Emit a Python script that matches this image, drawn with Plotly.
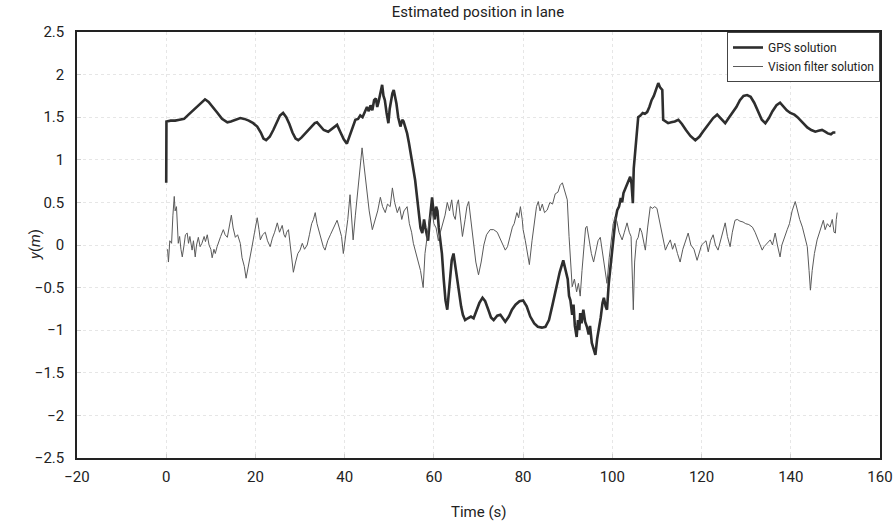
import plotly.graph_objects as go

# GPS solution: time (s) and lateral position (m)
gps_t = [0.0, 0.05, 1.0, 2.0, 3.0, 4.0, 5.0, 6.0, 7.0, 8.0, 8.7, 9.5, 10.5, 11.5, 12.5, 13.7, 14.5,
         15.5, 16.6, 17.5, 18.5, 19.5, 20.4, 21.2, 21.8, 22.4, 23.2, 24.0, 24.8, 25.5, 26.2, 26.9,
         27.6, 28.3, 29.0, 29.6, 30.3, 31.0, 31.8, 32.6, 33.3, 33.8, 34.5, 35.3, 36.3, 37.3, 38.3,
         39.0, 39.8, 40.5, 41.2, 41.8, 42.4, 43.0, 43.5, 44.0, 44.5, 45.0, 45.4, 45.8, 46.2, 46.6,
         47.0, 47.3, 47.6, 48.0, 48.4, 48.7, 49.0, 49.4, 49.8, 50.1, 50.4, 50.7, 51.0, 51.3, 51.6,
         52.0, 52.5, 52.9, 53.2, 53.6, 54.0, 54.4, 54.8, 55.2, 55.8, 56.2, 56.6, 57.0, 57.4, 57.8,
         58.1, 58.4, 58.7, 59.0, 59.3, 59.6, 59.9, 60.2, 60.5, 60.8, 61.1, 61.4, 61.8, 62.2, 62.6,
         63.0, 63.3, 63.6, 64.0, 64.4, 64.8, 65.2, 65.6, 66.1, 66.5, 67.0, 67.6, 68.3, 68.9, 69.5,
         70.2, 70.9, 71.5, 72.2, 72.8, 73.4, 74.2, 74.9, 75.5, 76.0, 76.8, 77.5, 78.3, 79.2, 80.0,
         80.8, 81.6, 82.5, 83.3, 84.2, 85.0, 85.8, 86.6, 87.4, 88.2, 89.0, 89.5, 90.0, 90.3, 90.6,
         91.0, 91.3, 91.6, 92.0, 92.3, 92.6, 92.8, 93.1, 93.5, 93.9, 94.3, 94.7, 95.0, 95.4, 95.8,
         96.2, 96.6, 97.0, 97.4, 97.8, 98.1, 98.5, 98.8, 99.2, 99.6, 100.0, 100.3, 100.7, 101.1,
         101.5, 101.9, 102.2, 102.5, 102.9, 103.2, 103.6, 104.0, 104.3, 104.6, 104.8, 105.1, 105.4,
         105.8, 106.3, 106.8, 107.3, 107.8, 108.3, 108.8, 109.3, 109.8, 110.3, 110.7, 111.2, 111.4,
         111.9, 112.5, 113.2, 114.0, 114.8, 115.6, 116.5, 117.5, 118.6, 119.5, 120.3, 121.0, 121.8,
         122.6, 123.5, 124.4, 125.3, 126.2, 127.0, 127.8, 128.6, 129.4, 130.2, 131.0, 131.8, 132.6,
         133.5, 134.3, 135.1, 135.9, 136.8, 137.6, 138.3, 139.1, 139.9, 140.8, 141.5, 142.1, 142.9,
         143.7, 144.6, 145.5, 146.2, 147.0, 147.7, 148.3, 149.0, 149.5, 150.0]
gps_y = [0.73, 1.45, 1.46, 1.46, 1.47, 1.48, 1.53, 1.58, 1.63, 1.68, 1.71, 1.68, 1.62, 1.55, 1.48,
         1.44, 1.45, 1.47, 1.49, 1.48, 1.46, 1.43, 1.39, 1.32, 1.25, 1.23, 1.27, 1.35, 1.45, 1.52,
         1.55, 1.50, 1.42, 1.32, 1.25, 1.23, 1.26, 1.30, 1.34, 1.39, 1.43, 1.44, 1.40, 1.35, 1.33,
         1.37, 1.41, 1.33, 1.24, 1.19, 1.30, 1.40, 1.47, 1.48, 1.52, 1.50, 1.57, 1.62, 1.57, 1.64,
         1.58, 1.70, 1.72, 1.62, 1.68, 1.78, 1.88, 1.75, 1.70, 1.55, 1.43, 1.60, 1.72, 1.78, 1.82,
         1.74, 1.66, 1.50, 1.39, 1.47, 1.45, 1.38, 1.31, 1.20, 1.05, 0.95, 0.76, 0.55, 0.40, 0.20,
         0.14, 0.30, 0.20, 0.10, 0.05, 0.25, 0.45, 0.56, 0.40, 0.30, 0.45, 0.40, 0.20, 0.09, -0.10,
         -0.40, -0.65, -0.76, -0.60, -0.40, -0.18, -0.10, -0.25, -0.40, -0.55, -0.72, -0.82, -0.88,
         -0.86, -0.84, -0.86, -0.78, -0.68, -0.62, -0.66, -0.76, -0.85, -0.88, -0.83, -0.82, -0.87,
         -0.90, -0.84, -0.76, -0.70, -0.66, -0.65, -0.72, -0.84, -0.92, -0.96, -0.97, -0.96, -0.88,
         -0.70, -0.52, -0.32, -0.18, -0.28, -0.40, -0.60, -0.65, -0.82, -0.70, -0.95, -1.08, -0.88,
         -1.00, -0.80, -0.92, -0.76, -0.90, -0.96, -1.05, -0.95, -1.15, -1.22, -1.29, -1.10, -0.98,
         -0.85, -0.68, -0.62, -0.72, -0.76, -0.45, -0.25, 0.00, 0.18, 0.30, 0.41, 0.45, 0.55, 0.50,
         0.61, 0.66, 0.70, 0.76, 0.80, 0.72, 0.49, 0.90, 1.08, 1.35, 1.50, 1.52, 1.55, 1.54, 1.56,
         1.62, 1.70, 1.75, 1.83, 1.90, 1.85, 1.82, 1.47, 1.45, 1.43, 1.44, 1.45, 1.47, 1.42, 1.35,
         1.28, 1.23, 1.27, 1.33, 1.38, 1.44, 1.49, 1.53, 1.48, 1.43, 1.50, 1.56, 1.62, 1.70, 1.75,
         1.76, 1.74, 1.67, 1.57, 1.47, 1.43, 1.49, 1.57, 1.64, 1.67, 1.63, 1.58, 1.55, 1.53, 1.50,
         1.47, 1.42, 1.38, 1.35, 1.33, 1.34, 1.35, 1.33, 1.31, 1.30, 1.32, 1.32]

# Vision filter solution: time (s) and lateral position (m)
vis_t = [0.3, 0.5, 0.8, 1.2, 1.5, 1.8, 2.0, 2.3, 2.7, 3.0, 3.3, 3.6, 4.0, 4.3, 4.7, 5.0, 5.3, 5.8,
         6.1, 6.5, 6.8, 7.2, 7.6, 8.0, 8.5, 8.8, 9.2, 9.6, 10.0, 10.3, 10.7, 11.0, 11.4, 11.8, 12.2,
         12.8, 13.2, 13.7, 14.2, 14.6, 15.0, 15.5, 16.0, 16.6, 17.0, 17.5, 17.9, 18.3, 18.8, 19.3,
         19.8, 20.4, 20.8, 21.1, 21.6, 22.2, 22.7, 23.3, 23.8, 24.3, 24.9, 25.4, 26.0, 26.4, 26.7,
         27.0, 27.4, 27.9, 28.5, 29.0, 29.5, 30.0, 30.5, 31.0, 31.6, 32.1, 32.6, 33.0, 33.4, 33.8,
         34.3, 34.8, 35.2, 35.6, 36.2, 36.8, 37.3, 37.8, 38.3, 38.8, 39.3, 39.7, 40.2, 40.7, 41.2,
         41.6, 41.9, 42.4, 42.9, 43.4, 43.9, 44.3, 44.7, 45.0, 45.5, 46.2, 46.8, 47.4, 48.0, 48.5,
         49.1, 49.6, 50.2, 50.7, 51.2, 51.8, 52.3, 52.8, 53.3, 54.0, 54.5, 55.0, 55.4, 56.0, 56.5,
         57.0, 57.6, 58.0, 58.5, 59.0, 59.6, 60.0, 60.5, 61.0, 61.4, 62.0, 62.5, 63.0, 63.5, 64.0,
         64.4, 64.8, 65.2, 65.5, 66.0, 66.4, 67.0, 67.4, 67.8, 68.3, 68.8, 69.4, 70.0, 70.6, 71.2,
         71.8, 72.6, 73.4, 74.2, 75.0, 76.0, 76.5, 77.0, 77.6, 78.0, 78.6, 79.0, 79.4, 79.8, 80.0,
         80.5, 81.0, 81.4, 82.0, 82.6, 83.0, 83.4, 83.8, 84.3, 84.8, 85.4, 86.0, 86.6, 87.2, 87.8,
         88.3, 88.8, 89.4, 89.9, 90.3, 90.6, 91.0, 91.5, 92.0, 92.4, 92.8, 93.2, 93.6, 94.0, 94.3,
         94.8, 95.3, 95.8, 96.3, 96.8, 97.3, 97.8, 98.3, 98.8, 99.3, 99.8, 100.2, 100.6, 101.0,
         101.5, 102.2, 102.7, 103.3, 103.8, 104.2, 104.5, 104.7, 105.0, 105.4, 105.8, 106.2, 106.6,
         107.0, 107.4, 107.9, 108.5, 109.0, 109.5, 110.0, 110.5, 111.0, 111.5, 111.9, 112.4, 113.0,
         113.5, 114.0, 114.6, 115.2, 115.8, 116.4, 117.0, 117.6, 118.3, 119.0, 119.6, 120.0, 120.4,
         121.0, 121.5, 122.0, 122.6, 123.1, 123.7, 124.2, 124.8, 125.3, 125.8, 126.4, 126.9, 127.5,
         128.0, 128.6, 129.3, 129.9, 130.6, 131.4, 132.0, 132.5, 133.0, 133.6, 134.0, 134.6, 135.4,
         135.9, 136.5, 137.0, 137.6, 138.0, 138.6, 139.2, 139.7, 140.3, 141.0, 141.5, 142.0, 142.6,
         143.2, 143.7, 144.1, 144.4, 144.8, 145.3, 145.9, 146.4, 146.8, 147.3, 147.7, 148.2, 148.8,
         149.3, 149.7, 150.0, 150.2, 150.4]
vis_y = [-0.05, -0.20, 0.05, 0.02, 0.35, 0.57, 0.40, 0.45, 0.02, 0.10, -0.05, -0.14, 0.00, 0.12,
         0.14, 0.02, 0.10, -0.06, 0.05, -0.14, 0.00, 0.09, -0.02, 0.02, 0.10, 0.04, 0.12, 0.00,
         -0.05, -0.15, -0.05, -0.10, -0.02, 0.05, 0.10, 0.18, 0.12, 0.09, 0.22, 0.35, 0.20, 0.09,
         0.12, 0.02, -0.15, -0.25, -0.39, -0.28, -0.18, 0.00, 0.15, 0.32, 0.18, 0.06, 0.12, 0.15,
         0.05, -0.02, 0.08, 0.15, 0.26, 0.15, 0.23, 0.12, 0.09, 0.15, 0.18, -0.05, -0.32, -0.20,
         -0.10, -0.06, 0.02, -0.05, 0.00, 0.12, 0.25, 0.30, 0.38, 0.25, 0.15, 0.05, -0.02, -0.06,
         0.05, 0.12, 0.18, 0.22, 0.29, 0.20, 0.10, -0.10, 0.10, 0.30, 0.59, 0.30, 0.06, 0.35, 0.60,
         0.90, 1.14, 0.95, 0.75, 0.60, 0.40, 0.18, 0.30, 0.40, 0.56, 0.45, 0.38, 0.48, 0.45, 0.67,
         0.50, 0.38, 0.45, 0.30, 0.40, 0.45, 0.25, 0.15, 0.02, -0.10, -0.20, -0.30, -0.50, -0.10,
         0.10, 0.30, 0.40, 0.25, 0.20, 0.05, 0.14, 0.25, 0.35, 0.50, 0.40, 0.53, 0.35, 0.30, 0.48,
         0.53, 0.30, 0.10, 0.30, 0.45, 0.51, 0.30, 0.05, -0.20, -0.35, -0.20, 0.00, 0.12, 0.18,
         0.18, 0.15, 0.05, -0.06, -0.02, 0.10, 0.21, 0.25, 0.38, 0.32, 0.45, 0.30, 0.18, 0.05,
         -0.12, -0.23, 0.05, 0.30, 0.45, 0.51, 0.40, 0.48, 0.38, 0.41, 0.50, 0.48, 0.60, 0.62,
         0.70, 0.73, 0.62, 0.53, 0.10, -0.20, -0.49, -0.40, -0.55, -0.45, -0.60, -0.30, 0.00,
         0.20, 0.22, 0.05, -0.10, -0.20, -0.05, 0.05, 0.09, -0.10, -0.30, -0.45, -0.15, 0.10, 0.25,
         0.33, 0.28, 0.15, 0.06, 0.15, 0.26, 0.15, 0.10, -0.40, -0.76, -0.20, 0.05, 0.09, 0.20,
         0.15, 0.05, -0.06, 0.20, 0.45, 0.43, 0.45, 0.43, 0.30, 0.15, 0.05, -0.06, 0.00, 0.06,
         -0.05, 0.02, -0.10, -0.20, -0.05, 0.05, 0.14, 0.00, -0.05, -0.18, -0.05, 0.00, 0.02, 0.05,
         -0.08, 0.05, 0.12, 0.00, -0.06, 0.05, 0.15, 0.26, 0.10, -0.02, 0.15, 0.29, 0.30, 0.28,
         0.27, 0.25, 0.24, 0.21, 0.15, 0.08, 0.00, -0.06, -0.02, 0.02, 0.06, 0.00, 0.14, 0.00,
         -0.14, 0.00, 0.10, 0.18, 0.25, 0.40, 0.51, 0.40, 0.30, 0.21, 0.10, -0.02, -0.30, -0.53,
         -0.30, -0.10, 0.06, 0.15, 0.22, 0.29, 0.18, 0.25, 0.21, 0.30, 0.15, 0.14, 0.30, 0.38]

x_ticks = [-20, 0, 20, 40, 60, 80, 100, 120, 140, 160]
y_ticks = [-2.5, -2, -1.5, -1, -0.5, 0, 0.5, 1, 1.5, 2, 2.5]

FONT = "Roboto, Liberation Sans, sans-serif"

fig = go.Figure()
fig.add_trace(go.Scatter(x=gps_t, y=gps_y, mode="lines", name="GPS solution",
                         line=dict(color="#2e2e2e", width=2.6)))
fig.add_trace(go.Scatter(x=vis_t, y=vis_y, mode="lines", name="Vision filter solution",
                         line=dict(color="#5a5a5a", width=1)))

axis_common = dict(showline=True, linecolor="#222", linewidth=1.5, mirror=True,
                   showgrid=True, gridcolor="#e6e6e6", griddash="dot", gridwidth=1,
                   ticks="inside", ticklen=4, tickcolor="#cfcfcf", zeroline=False,
                   automargin=False,
                   tickfont=dict(family=FONT, size=15, color="#222"))

fig.update_layout(
    width=895, height=526,
    margin=dict(l=77, r=15, t=32, b=68),
    paper_bgcolor="white", plot_bgcolor="white",
    title=dict(text="Estimated position in lane", x=0.534, xanchor="center", y=0.977,
               yanchor="middle", font=dict(family=FONT, size=15, color="#222")),
    xaxis=dict(range=[-20, 160], tickvals=x_ticks, ticklabelstandoff=4, **axis_common),
    yaxis=dict(range=[-2.5, 2.5], tickvals=y_ticks, ticklabelstandoff=8, **axis_common),
    legend=dict(x=1, y=1, xanchor="right", yanchor="top", bgcolor="white",
                bordercolor="#444", borderwidth=1,
                font=dict(family=FONT, size=12, color="#222"),
                tracegroupgap=0, itemwidth=30),
    showlegend=True,
    annotations=[
        dict(text="Time (s)", xref="paper", yref="paper", x=0.5, y=-0.127,
             xanchor="center", yanchor="middle", showarrow=False,
             font=dict(family=FONT, size=15, color="#222")),
        dict(text="<i>y</i>(<i>m</i>)", xref="paper", yref="paper", x=-0.0523, y=0.5,
             xanchor="center", yanchor="middle", textangle=-90, showarrow=False,
             font=dict(family=FONT, size=15, color="#222")),
    ],
)

fig.write_html("out.html")
